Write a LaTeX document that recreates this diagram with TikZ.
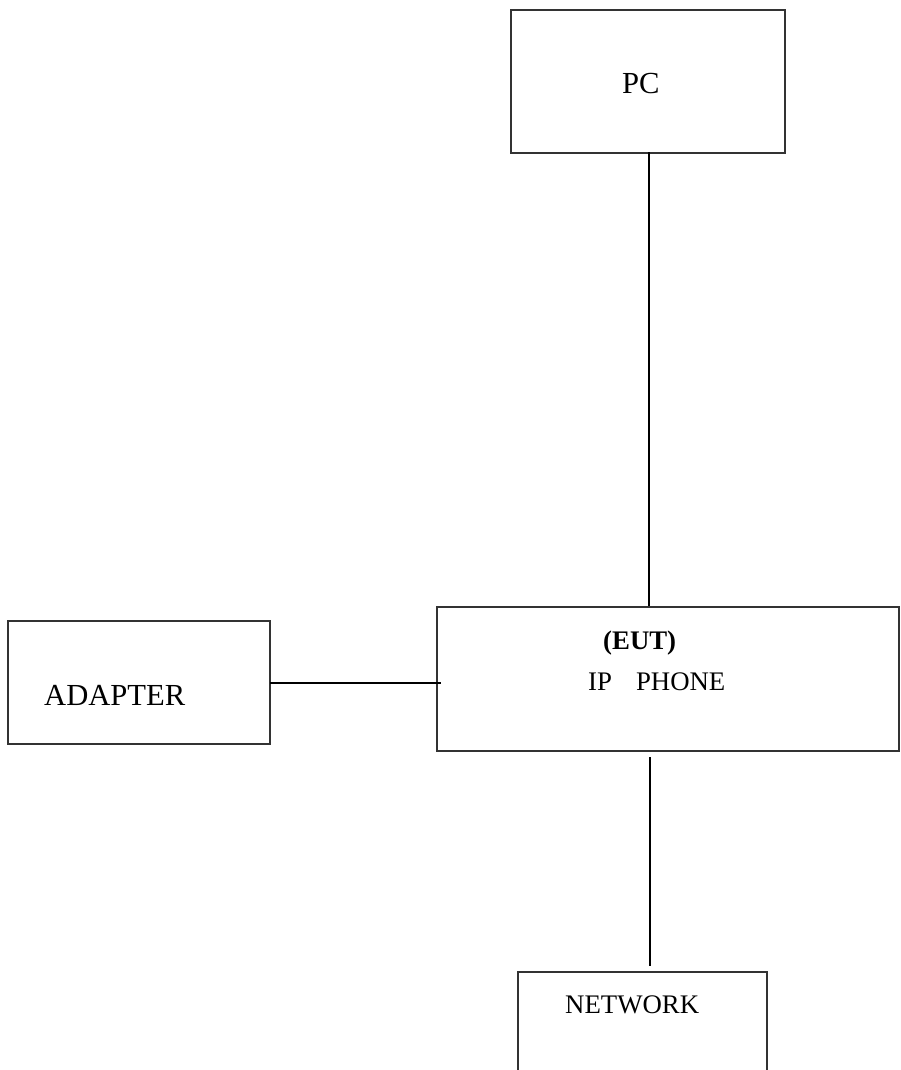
\documentclass[tikz,border=0pt]{standalone}
\usepackage{fontspec}
\setmainfont{Liberation Serif}
\begin{document}
\begin{tikzpicture}[x=1pt,y=-1pt,
  box/.style={draw=black!80,line width=1.3pt,rectangle,inner sep=0pt},
  wire/.style={draw=black,line width=1.3pt},
  big/.style={inner sep=0pt,anchor=base west,font=\fontsize{30.6}{36}\selectfont},
  small/.style={inner sep=0pt,anchor=base west,font=\fontsize{26.8}{31}\selectfont}]
\useasboundingbox (0,0) rectangle (900,1070);
\clip (0,0) rectangle (900,1070);
% boxes
\node[box,minimum width=274pt,minimum height=143pt] (pc) at (648,81.5) {};
\node[box,minimum width=462pt,minimum height=144pt] (eut) at (668,679) {};
\node[box,minimum width=262pt,minimum height=123pt] (adapter) at (139,682.5) {};
\node[box,minimum width=249pt,minimum height=160pt] (net) at (642.5,1052) {};
% texts
\node[big] (pct) at (622,94) {PC};
\node[big] (adt) at (44,705) {ADAPTER};
\node[small] (eutt) at (603,649) {\textbf{(EUT)}};
\node[small] (ipt) at (588,690) {IP\hspace{24pt}PHONE};
\node[small] (nett) at (565,1013) {NETWORK};
% connector ends
\coordinate (c1a) at (649,152);
\coordinate (c1b) at (649,606);
\coordinate (c2a) at (270,683);
\coordinate (c2b) at (441,683);
\coordinate (c3a) at (650,757);
\coordinate (c3b) at (650,966);
\draw[wire] (c1a) -- (c1b);
\draw[wire] (c2a) -- (c2b);
\draw[wire] (c3a) -- (c3b);
\end{tikzpicture}
\end{document}
